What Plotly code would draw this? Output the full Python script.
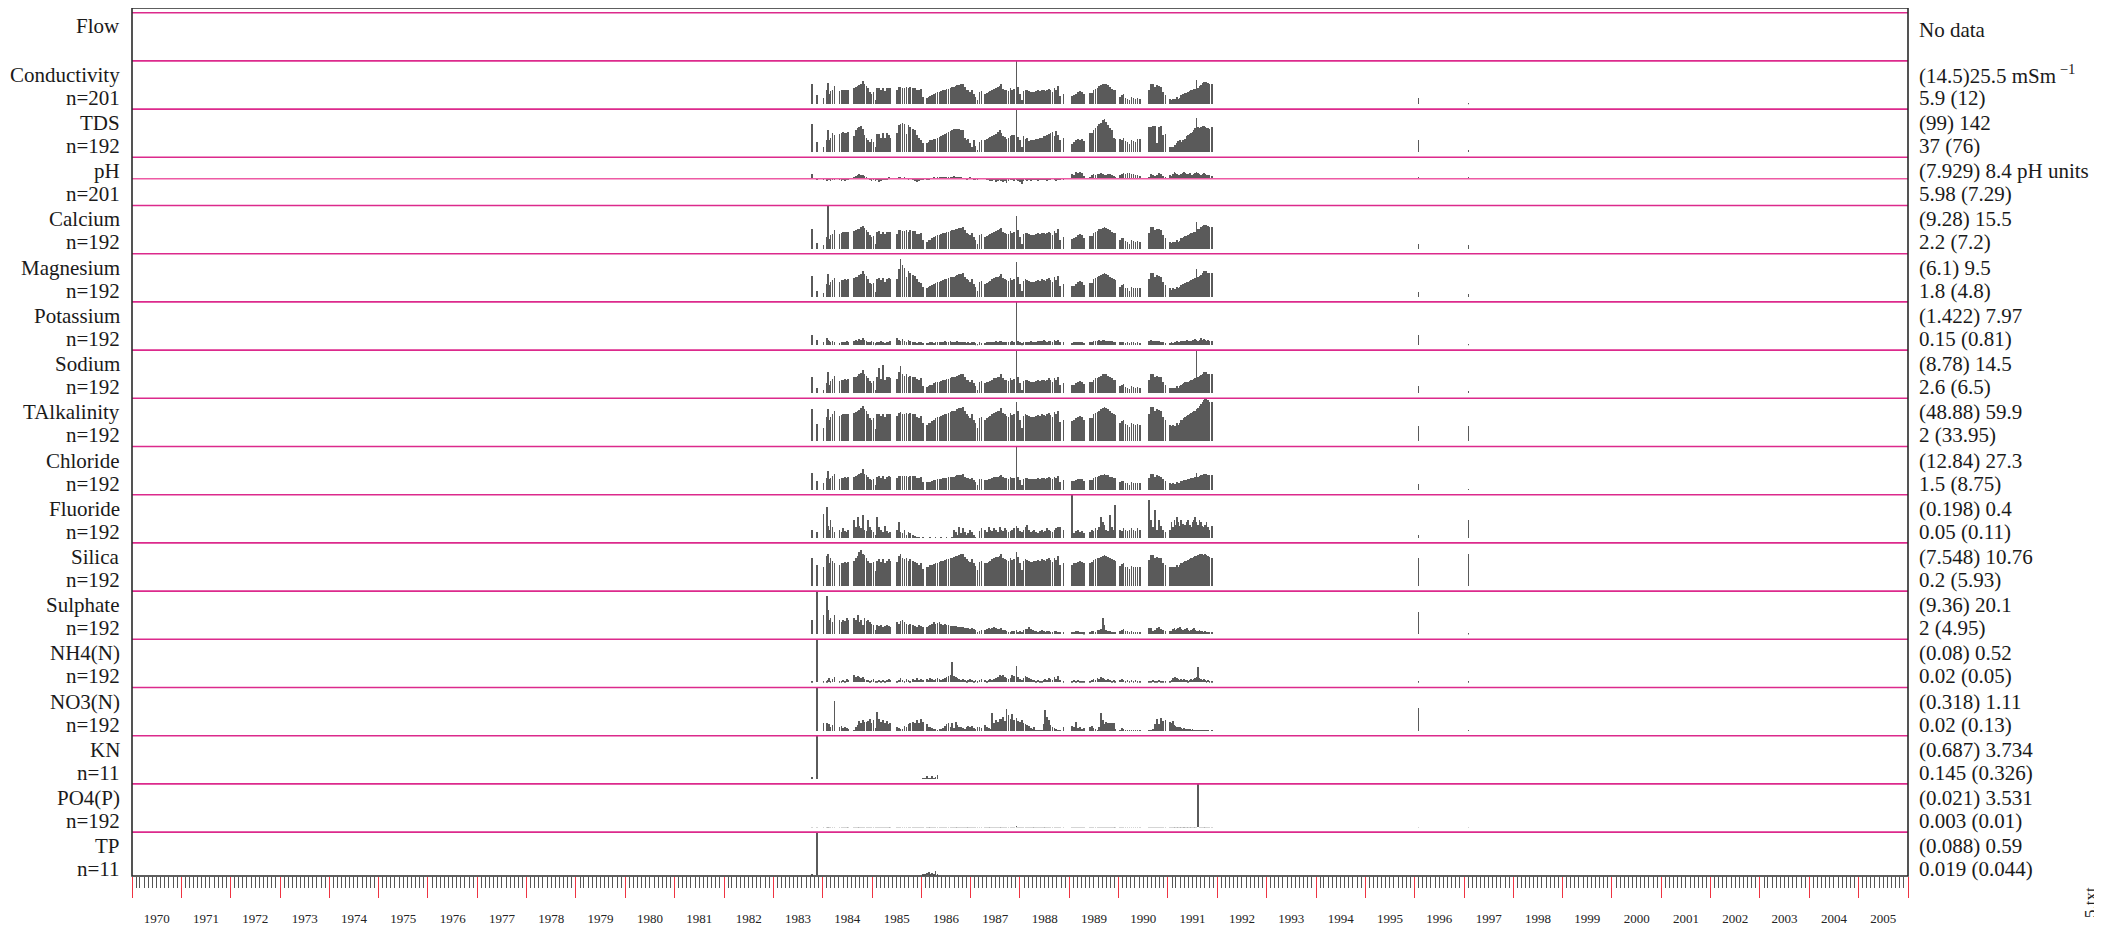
import pandas as pd
import plotly.graph_objects as go

# ---------------- sample dates (decimal years) ----------------
sample_years = [
    1983.79, 1983.88,
    1984.02, 1984.09, 1984.11, 1984.13, 1984.16, 1984.20, 1984.24,
    1984.34, 1984.38, 1984.42, 1984.45, 1984.49, 1984.52,
    1984.64, 1984.67, 1984.71, 1984.74, 1984.78, 1984.82, 1984.85, 1984.89, 1984.92, 1984.96, 1984.99, 1985.03,
    1985.07, 1985.10, 1985.14, 1985.18, 1985.22, 1985.26, 1985.30, 1985.34, 1985.37,
    1985.50, 1985.54, 1985.58, 1985.62, 1985.66, 1985.70, 1985.74, 1985.77,
    1985.83, 1985.87, 1985.91, 1985.95, 1985.99, 1986.03,
    1986.11, 1986.15, 1986.18, 1986.22, 1986.26, 1986.29, 1986.33, 1986.37, 1986.40, 1986.44,
    1986.48, 1986.51, 1986.55, 1986.59, 1986.62, 1986.66, 1986.70, 1986.73, 1986.77, 1986.81,
    1986.84, 1986.88, 1986.92, 1986.95, 1986.99, 1987.03, 1987.07, 1987.10, 1987.14, 1987.18,
    1987.22,
    1987.29, 1987.33, 1987.37, 1987.40, 1987.44, 1987.48, 1987.51, 1987.55, 1987.59, 1987.62,
    1987.66, 1987.70, 1987.73, 1987.77, 1987.81, 1987.84, 1987.88, 1987.93, 1987.96, 1988.00,
    1988.04, 1988.07, 1988.11, 1988.15, 1988.18, 1988.22, 1988.26, 1988.29, 1988.33, 1988.37,
    1988.40, 1988.44, 1988.48, 1988.51, 1988.55, 1988.59, 1988.62, 1988.66, 1988.70, 1988.73,
    1988.77, 1988.81, 1988.88,
    1989.05, 1989.09, 1989.13, 1989.17, 1989.21, 1989.25, 1989.29,
    1989.42, 1989.46, 1989.49, 1989.53, 1989.57, 1989.60, 1989.64, 1989.68, 1989.71, 1989.75, 1989.79, 1989.82, 1989.86, 1989.90, 1989.93,
    1990.03, 1990.07, 1990.10, 1990.14, 1990.18, 1990.22, 1990.26, 1990.30, 1990.34, 1990.38, 1990.43,
    1990.62, 1990.66, 1990.70, 1990.74, 1990.78, 1990.82, 1990.86, 1990.90, 1990.95,
    1991.04, 1991.07, 1991.10, 1991.13, 1991.15, 1991.18, 1991.21, 1991.24, 1991.27, 1991.30,
    1991.33, 1991.35, 1991.38, 1991.41, 1991.44, 1991.47, 1991.50, 1991.53, 1991.55, 1991.58,
    1991.61, 1991.64, 1991.67, 1991.70, 1991.73, 1991.75, 1991.78, 1991.81, 1991.84, 1991.89,
    1996.08, 1997.09,
]
kn_tp_years = [1983.79, 1983.88, 1986.04, 1986.08, 1986.11, 1986.15, 1986.18, 1986.22, 1986.26, 1986.29, 1986.33]

# ---------------- values ----------------
conductivity = [
    15.2, 10.3,
    8.9, 12.2, 15.6, 10.7, 11.9, 12.5, 14.0,
    11.9, 12.2, 12.4, 12.6, 12.5, 12.6,
    13.4, 13.7, 14.0, 14.6, 15.2, 16.5, 15.2, 14.3, 13.1, 11.5, 10.7, 11.4,
    7.7, 13.4, 13.4, 12.5, 13.4, 11.9, 13.1, 13.4, 13.1,
    12.5, 13.7, 13.7, 13.4, 13.4, 13.7, 13.4, 13.7,
    13.4, 13.5, 12.5, 12.2, 12.9, 9.2,
    8.9, 9.2, 9.5, 10.0, 10.7, 11.1, 11.5, 11.5, 11.9, 12.2,
    12.5, 12.8, 13.0, 13.4, 13.7, 13.7, 14.0, 14.5, 14.6, 14.9,
    15.2, 13.7, 12.5, 12.2, 11.5, 12.5, 10.7, 9.2, 7.7, 11.5,
    12.0,
    10.7, 11.0, 11.5, 11.9, 12.5, 13.0, 13.4, 13.7, 14.0, 14.9,
    13.0, 12.5, 12.2, 12.0, 13.2, 12.4, 12.8, 25.5, 13.7, 10.7,
    7.7, 11.9, 12.5, 12.2, 11.9, 11.5, 11.5, 11.5, 11.9, 12.2,
    11.9, 12.5, 12.2, 11.9, 12.5, 13.0, 12.2, 11.5, 13.4, 12.4,
    14.0, 9.5, 10.7,
    9.8, 10.0, 10.7, 11.5, 11.9, 11.5, 10.4,
    11.0, 11.0, 12.5, 13.0, 13.4, 14.0, 14.5, 14.9, 15.2, 14.9, 14.5, 13.7, 13.0, 12.5, 12.2,
    9.2, 10.0, 10.4, 8.9, 8.5, 7.7, 9.2, 8.9, 8.5, 8.9, 8.5,
    12.5, 15.2, 15.2, 13.7, 14.5, 14.0, 13.7, 11.5, 10.0,
    8.5, 8.0, 8.5, 7.7, 8.2, 9.2, 8.5, 9.0, 10.0, 10.4,
    10.7, 11.0, 11.2, 11.5, 11.8, 12.2, 12.5, 12.8, 13.0, 17.1,
    13.4, 14.0, 14.5, 15.5, 16.0, 16.2, 16.0, 15.5, 15.2, 15.2,
    8.8, 6.2,
]
tds = [
    106, 62,
    51, 68, 91, 66, 73, 83, 80,
    82, 84, 86, 84, 84, 86,
    76, 91, 95, 99, 101, 93, 78, 73, 68, 62, 70, 62,
    49, 82, 82, 73, 84, 73, 84, 78, 73,
    84, 103, 106, 109, 106, 82, 103, 99,
    93, 91, 78, 73, 66, 59,
    59, 62, 66, 68, 70, 70, 73, 74, 76, 78,
    82, 84, 86, 89, 91, 93, 93, 94, 93, 91,
    92, 73, 66, 70, 59, 49, 66, 53, 43, 62,
    66,
    66, 70, 73, 74, 76, 78, 82, 86, 91, 84,
    76, 74, 70, 72, 76, 80, 78, 142, 74, 68,
    49, 76, 70, 73, 64, 66, 66, 68, 70, 70,
    73, 73, 76, 76, 78, 81, 84, 86, 76, 89,
    80, 66, 73,
    58, 62, 66, 70, 68, 70, 64,
    84, 84, 91, 97, 101, 106, 109, 116, 118, 111, 103, 97, 91, 73, 70,
    70, 66, 73, 64, 62, 58, 68, 64, 62, 69, 70,
    99, 99, 101, 101, 60, 99, 101, 78, 81,
    49, 51, 49, 52, 56, 60, 64, 66, 62, 66,
    68, 70, 76, 78, 82, 84, 86, 90, 95, 120,
    99, 97, 99, 100, 102, 99, 97, 95, 93, 99,
    66, 43,
]
ph = [
    7.45, 7.10,
    7.12, 7.05, 7.10, 7.14, 7.08, 7.12, 7.15,
    7.10, 7.08, 7.12, 7.05, 7.10, 7.12,
    7.30, 7.35, 7.42, 7.45, 7.38, 7.40, 7.32, 7.28, 7.22, 7.10, 7.08, 7.12,
    7.05, 7.10, 7.02, 7.08, 7.12, 7.10, 7.15, 7.25, 7.18,
    7.22, 7.28, 7.25, 7.18, 7.26, 7.22, 7.15, 7.22,
    7.10, 7.05, 7.02, 7.08, 7.12, 7.10,
    7.15, 7.12, 7.18, 7.22, 7.25, 7.22, 7.28, 7.25, 7.30, 7.28,
    7.26, 7.30, 7.28, 7.25, 7.30, 7.32, 7.28, 7.30, 7.26, 7.24,
    7.22, 7.18, 7.15, 7.22, 7.25, 7.18, 7.12, 7.10, 7.15, 7.20,
    7.22,
    7.18, 7.15, 7.10, 7.08, 7.05, 7.10, 7.02, 7.08, 7.12, 7.05,
    7.00, 7.08, 6.95, 7.05, 7.10, 7.12, 7.08, 7.15, 7.05, 7.00,
    6.92, 7.08, 7.10, 7.05, 7.12, 7.08, 7.15, 7.10, 7.12, 7.05,
    7.10, 7.15, 7.12, 7.10, 7.08, 7.15, 7.12, 7.18, 7.10, 7.05,
    7.12, 7.15, 7.10,
    7.45, 7.40, 7.55, 7.50, 7.58, 7.52, 7.35,
    7.30, 7.38, 7.45, 7.42, 7.48, 7.45, 7.50, 7.45, 7.40, 7.42, 7.45, 7.48, 7.40, 7.35, 7.30,
    7.42, 7.45, 7.50, 7.48, 7.52, 7.50, 7.48, 7.45, 7.42, 7.38, 7.35,
    7.30, 7.45, 7.38, 7.35, 7.40, 7.52, 7.48, 7.35, 7.30,
    7.40, 7.35, 7.48, 7.55, 7.52, 7.48, 7.42, 7.38, 7.45, 7.50,
    7.55, 7.52, 7.48, 7.45, 7.50, 7.42, 7.38, 7.45, 7.52, 7.55,
    7.50, 7.45, 7.42, 7.48, 7.52, 7.45, 7.40, 7.38, 7.42, 7.35,
    7.28, 7.25,
]
calcium = [
    8.5, 4.2,
    3.5, 6.0, 15.5, 5.5, 6.5, 7.0, 8.0,
    7.0, 7.2, 7.4, 7.5, 7.4, 7.6,
    7.8, 8.0, 8.3, 8.6, 9.0, 9.5, 8.8, 8.2, 7.4, 6.5, 6.0, 6.4,
    3.8, 7.6, 7.8, 7.0, 7.6, 6.8, 7.4, 7.6, 7.4,
    7.0, 8.0, 8.2, 7.8, 7.8, 8.0, 7.6, 8.0,
    7.8, 7.8, 7.0, 6.8, 7.2, 5.0,
    4.6, 5.0, 5.2, 5.6, 6.0, 6.3, 6.6, 6.6, 6.9, 7.1,
    7.3, 7.5, 7.6, 7.9, 8.1, 8.1, 8.3, 8.6, 8.7, 8.9,
    9.1, 8.0, 7.2, 7.0, 6.5, 7.2, 6.0, 5.0, 4.0, 6.5,
    6.9,
    6.0, 6.3, 6.6, 6.9, 7.3, 7.6, 7.9, 8.1, 8.3, 8.9,
    7.6, 7.3, 7.0, 6.9, 7.7, 7.2, 7.5, 12.5, 8.1, 6.0,
    4.0, 6.9, 7.3, 7.1, 6.9, 6.6, 6.6, 6.6, 6.9, 7.1,
    6.9, 7.3, 7.1, 6.9, 7.3, 7.6, 7.1, 6.6, 7.9, 7.2,
    8.3, 5.2, 6.0,
    5.5, 5.6, 6.0, 6.6, 6.9, 6.6, 5.8,
    6.2, 6.2, 7.3, 7.6, 7.9, 8.3, 8.6, 8.9, 9.1, 8.9, 8.6, 8.1, 7.6, 7.3, 7.1,
    5.0, 5.6, 5.8, 4.8, 4.6, 4.0, 5.0, 4.8, 4.6, 4.8, 4.6,
    7.3, 9.1, 9.1, 8.1, 8.6, 8.3, 8.1, 6.6, 5.6,
    4.6, 4.3, 4.6, 4.0, 4.4, 5.0, 4.6, 4.9, 5.6, 5.8,
    6.0, 6.2, 6.4, 6.6, 6.8, 7.1, 7.3, 7.5, 7.6, 10.5,
    8.3, 8.6, 9.0, 9.3, 9.6, 9.8, 9.6, 9.3, 9.1, 9.1,
    4.0, 3.5,
]
magnesium = [
    5.6, 3.0,
    2.6, 4.2, 6.0, 4.0, 4.5, 4.8, 5.2,
    4.6, 4.8, 4.9, 5.0, 4.9, 5.0,
    5.2, 5.4, 5.5, 5.8, 6.0, 6.4, 5.9, 5.6, 5.0, 4.4, 4.1, 4.4,
    2.8, 5.0, 5.2, 4.8, 5.2, 4.6, 5.0, 5.2, 5.0,
    5.0, 6.8, 8.6, 7.5, 7.0, 5.4, 6.5, 6.2,
    5.8, 5.6, 5.0, 4.6, 4.4, 3.6,
    3.4, 3.6, 3.8, 4.0, 4.2, 4.4, 4.5, 4.5, 4.7, 4.8,
    5.0, 5.1, 5.2, 5.4, 5.5, 5.5, 5.6, 5.8, 5.9, 6.0,
    6.1, 5.5, 5.0, 4.8, 4.5, 5.0, 4.2, 3.6, 3.0, 4.5,
    4.7,
    4.2, 4.3, 4.5, 4.7, 5.0, 5.2, 5.4, 5.5, 5.6, 6.0,
    5.2, 5.0, 4.8, 4.7, 5.3, 4.9, 5.1, 8.0, 5.5, 4.2,
    3.0, 4.7, 5.0, 4.8, 4.7, 4.5, 4.5, 4.5, 4.7, 4.8,
    4.7, 5.0, 4.8, 4.7, 5.0, 5.2, 4.8, 4.5, 5.4, 4.9,
    5.6, 3.8, 4.2,
    3.8, 3.9, 4.2, 4.5, 4.7, 4.5, 4.0,
    4.4, 4.4, 5.0, 5.2, 5.4, 5.6, 5.8, 6.0, 6.1, 6.0, 5.8, 5.5, 5.2, 5.0, 4.8,
    3.6, 4.0, 4.1, 3.5, 3.4, 3.0, 3.6, 3.5, 3.4, 3.5, 3.4,
    5.0, 6.1, 6.1, 5.5, 5.8, 5.6, 5.5, 4.5, 4.0,
    3.4, 3.2, 3.4, 3.0, 3.3, 3.6, 3.4, 3.6, 4.0, 4.1,
    4.2, 4.4, 4.5, 4.6, 4.7, 4.8, 5.0, 5.1, 5.2, 6.8,
    5.4, 5.6, 5.8, 6.2, 6.4, 6.5, 6.4, 6.2, 6.1, 6.1,
    2.8, 2.4,
]
potassium = [
    2.0, 1.2,
    0.8, 1.5, 1.2, 0.9, 0.7, 1.0, 0.8,
    0.6, 0.7, 0.8, 0.7, 0.9, 0.8,
    1.0, 1.2, 0.9, 1.3, 1.1, 1.4, 1.2, 0.9, 0.8, 0.7, 0.9, 0.8,
    0.5, 0.8, 0.7, 0.9, 0.8, 0.6, 0.8, 0.7, 0.9,
    1.4, 1.1, 0.9, 1.3, 1.0, 0.8, 1.2, 0.9,
    0.8, 0.7, 0.6, 0.7, 0.8, 0.6,
    0.6, 0.6, 0.7, 0.7, 0.6, 0.7, 0.8, 0.7, 0.8, 0.7,
    0.9, 0.8, 0.8, 0.9, 0.8, 0.7, 0.8, 0.9, 0.8, 0.7,
    0.8, 0.7, 0.6, 0.7, 0.6, 0.8, 0.7, 0.5, 0.4, 0.7,
    0.6,
    0.6, 0.7, 0.7, 0.8, 0.7, 0.8, 0.9, 0.8, 1.0, 0.9,
    0.8, 0.7, 0.8, 0.7, 0.8, 0.9, 0.8, 7.97, 0.9, 0.7,
    0.5, 0.8, 0.7, 0.8, 0.7, 0.9, 0.8, 0.7, 0.8, 0.9,
    1.0, 0.9, 1.1, 0.9, 0.8, 1.0, 0.9, 0.8, 1.1, 0.9,
    1.2, 0.7, 0.8,
    0.6, 0.7, 0.8, 0.7, 0.8, 0.7, 0.6,
    0.7, 0.8, 0.9, 1.0, 0.9, 1.1, 1.0, 1.2, 1.1, 1.0, 0.9, 1.0, 0.9, 0.8, 0.8,
    0.7, 0.8, 0.7, 0.6, 0.7, 0.6, 0.8, 0.7, 0.6, 0.7, 0.6,
    0.9, 1.1, 1.0, 0.9, 1.0, 0.9, 0.8, 0.7, 0.6,
    0.6, 0.7, 0.6, 0.8, 0.7, 0.9, 0.8, 0.7, 0.9, 1.0,
    0.8, 0.9, 1.1, 1.0, 0.9, 1.0, 1.2, 1.1, 1.3, 1.2,
    1.0, 1.1, 1.4, 1.2, 1.3, 1.1, 1.0, 1.2, 1.0, 0.9,
    2.0, 0.4,
]
sodium = [
    7.0, 4.0,
    3.5, 5.5, 8.5, 5.0, 6.0, 6.5, 7.5,
    6.0, 6.2, 6.3, 6.5, 6.4, 6.5,
    7.0, 7.2, 7.5, 7.8, 8.2, 9.0, 8.0, 7.5, 6.8, 6.0, 5.5, 6.0,
    3.5, 7.0, 9.5, 6.5, 10.5, 6.2, 7.0, 7.2, 6.8,
    6.5, 8.5, 10.0, 8.0, 7.5, 7.8, 7.2, 7.5,
    7.2, 7.0, 6.5, 6.2, 6.8, 4.5,
    4.4, 4.6, 4.8, 5.0, 5.4, 5.6, 5.8, 5.8, 6.0, 6.2,
    6.4, 6.5, 6.6, 6.8, 7.0, 7.0, 7.2, 7.5, 7.6, 7.8,
    8.0, 7.0, 6.4, 6.2, 5.8, 6.4, 5.4, 4.6, 3.6, 5.8,
    6.1,
    5.4, 5.6, 5.8, 6.1, 6.4, 6.7, 6.9, 7.0, 7.2, 7.8,
    6.7, 6.4, 6.2, 6.1, 6.8, 6.3, 6.6, 14.5, 7.0, 5.4,
    3.6, 6.1, 6.4, 6.2, 6.1, 5.8, 5.8, 5.8, 6.1, 6.2,
    6.1, 6.4, 6.2, 6.1, 6.4, 6.7, 6.2, 5.8, 6.9, 6.3,
    7.2, 4.8, 5.4,
    4.9, 5.0, 5.4, 5.8, 6.1, 5.8, 5.2,
    5.6, 5.6, 6.4, 6.7, 6.9, 7.2, 7.5, 7.8, 8.0, 7.8, 7.5, 7.0, 6.7, 6.4, 6.2,
    4.6, 5.0, 5.2, 4.4, 4.2, 3.8, 4.6, 4.4, 4.2, 4.4, 4.2,
    6.4, 8.0, 8.0, 7.0, 7.5, 7.2, 7.0, 5.8, 5.0,
    4.2, 4.0, 4.2, 3.8, 4.1, 4.6, 4.2, 4.5, 5.0, 5.2,
    5.4, 5.6, 5.7, 5.8, 6.0, 6.2, 6.4, 6.5, 6.7, 14.5,
    7.0, 7.4, 7.6, 8.0, 8.4, 8.6, 8.4, 8.0, 7.8, 7.8,
    4.6, 3.2,
]
talkalinity = [
    45, 25,
    20, 35, 45, 30, 35, 38, 42,
    36, 37, 38, 39, 38, 39,
    40, 41, 42, 44, 46, 49, 45, 42, 38, 33, 30, 33,
    18, 38, 39, 36, 39, 34, 38, 39, 38,
    36, 40, 41, 39, 39, 40, 38, 40,
    38, 38, 35, 33, 36, 26,
    24, 26, 27, 29, 31, 33, 34, 34, 36, 37,
    38, 39, 40, 41, 42, 42, 43, 45, 46, 47,
    48, 42, 38, 36, 33, 38, 31, 26, 20, 33,
    35,
    31, 33, 34, 36, 38, 40, 41, 42, 43, 46,
    40, 38, 36, 35, 40, 37, 39, 55, 42, 31,
    20, 36, 38, 37, 36, 34, 34, 34, 36, 37,
    36, 38, 37, 36, 38, 40, 37, 34, 41, 38,
    43, 28, 31,
    29, 30, 33, 35, 36, 35, 31,
    33, 33, 38, 40, 41, 43, 45, 47, 48, 47, 45, 42, 40, 38, 37,
    26, 29, 30, 25, 24, 21, 26, 25, 24, 25, 24,
    38, 48, 48, 43, 45, 44, 43, 35, 30,
    24, 23, 24, 22, 23, 26, 24, 26, 30, 31,
    33, 35, 36, 37, 38, 40, 41, 42, 43, 45,
    47, 49, 52, 55, 57, 58, 59.9, 57, 55, 54,
    22, 23,
]
chloride = [
    12, 7,
    6, 9, 13, 8, 9, 10, 11,
    8.5, 8.8, 9.0, 9.2, 9.0, 9.2,
    9.5, 10, 10.5, 11, 12, 14, 11.5, 10.5, 9.5, 8.0, 7.5, 8.0,
    5, 9.5, 9.8, 9.0, 9.8, 8.5, 9.5, 9.8, 9.5,
    9.0, 10.0, 10.2, 9.8, 9.8, 10.0, 9.6, 10.0,
    9.8, 9.8, 9.0, 8.6, 9.2, 6.5,
    6.2, 6.5, 6.7, 7.0, 7.4, 7.7, 8.0, 8.0, 8.4, 8.6,
    8.8, 9.0, 9.2, 9.4, 9.7, 9.7, 10, 10.4, 10.5, 10.8,
    11, 9.7, 8.8, 8.6, 8.0, 8.8, 7.4, 6.4, 5.0, 8.0,
    8.5,
    7.4, 7.7, 8.0, 8.4, 8.8, 9.2, 9.4, 9.7, 10, 10.8,
    9.2, 8.8, 8.6, 8.4, 9.3, 8.7, 9.0, 27.3, 9.7, 7.4,
    5.0, 8.4, 8.8, 8.6, 8.4, 8.0, 8.0, 8.0, 8.4, 8.6,
    8.4, 8.8, 8.6, 8.4, 8.8, 9.2, 8.6, 8.0, 9.4, 8.7,
    10, 6.5, 7.4,
    6.8, 7.0, 7.4, 8.0, 8.4, 8.0, 7.2,
    7.6, 7.6, 8.8, 9.2, 9.4, 10, 10.4, 10.8, 11, 10.8, 10.4, 9.7, 9.2, 8.8, 8.6,
    6.2, 6.8, 7.2, 6.0, 5.8, 5.0, 6.2, 6.0, 5.8, 6.0, 5.8,
    8.8, 11, 11, 9.7, 10.4, 10, 9.7, 8.0, 6.8,
    5.8, 5.4, 5.8, 5.0, 5.6, 6.2, 5.8, 6.1, 6.8, 7.2,
    7.4, 7.6, 7.8, 8.0, 8.2, 8.6, 8.8, 9.0, 9.2, 12.0,
    9.4, 9.8, 10.4, 10.8, 11.2, 11.4, 11.2, 10.8, 10.4, 10.4,
    5.5, 2.5,
]
fluoride = [
    0.12, 0.10,
    0.25, 0.30, 0.15, 0.12, 0.20, 0.14, 0.10,
    0.12, 0.10, 0.13, 0.11, 0.10, 0.12,
    0.20, 0.14, 0.22, 0.15, 0.13, 0.24, 0.12, 0.11, 0.20, 0.14, 0.12, 0.10,
    0.08, 0.22, 0.14, 0.12, 0.10, 0.15, 0.11, 0.09, 0.10,
    0.12, 0.18, 0.10, 0.09, 0.12, 0.08, 0.10, 0.09,
    0.08, 0.07, 0.06, 0.06, 0.05, 0.06,
    0.05, 0.05, 0.06, 0.05, 0.05, 0.06, 0.05, 0.05, 0.06, 0.05,
    0.05, 0.06, 0.05, 0.05, 0.06, 0.12, 0.10, 0.08, 0.14, 0.09,
    0.13, 0.10, 0.08, 0.09, 0.12, 0.10, 0.08, 0.06, 0.05, 0.11,
    0.13,
    0.12, 0.10, 0.14, 0.12, 0.11, 0.13, 0.12, 0.10, 0.14, 0.12,
    0.11, 0.13, 0.12, 0.10, 0.11, 0.12, 0.13, 0.15, 0.13, 0.11,
    0.10, 0.12, 0.14, 0.16, 0.12, 0.10, 0.11, 0.12, 0.10, 0.09,
    0.11, 0.12, 0.10, 0.11, 0.13, 0.12, 0.11, 0.10, 0.12, 0.13,
    0.14, 0.14, 0.12,
    0.40, 0.09, 0.11, 0.12, 0.10, 0.11, 0.09,
    0.10, 0.12, 0.11, 0.13, 0.12, 0.14, 0.22, 0.18, 0.16, 0.12, 0.11, 0.24, 0.14, 0.12, 0.32,
    0.12, 0.11, 0.13, 0.12, 0.11, 0.12, 0.13, 0.12, 0.11, 0.13, 0.12,
    0.36, 0.20, 0.14, 0.28, 0.12, 0.20, 0.15, 0.12, 0.10,
    0.12, 0.18, 0.14, 0.20, 0.16, 0.22, 0.18, 0.15, 0.20, 0.17,
    0.14, 0.16, 0.18, 0.20, 0.16, 0.14, 0.18, 0.20, 0.22, 0.18,
    0.16, 0.20, 0.18, 0.15, 0.14, 0.16, 0.18, 0.14, 0.12, 0.15,
    0.08, 0.20,
]
silica = [
    7.0, 5.5,
    5.0, 7.5, 8.0, 6.0, 7.0, 6.5, 6.0,
    5.5, 5.8, 6.0, 6.2, 6.0, 6.2,
    6.5, 7.2, 7.5, 8.5, 9.0, 8.0, 7.8, 7.0, 6.5, 6.0, 5.8, 6.2,
    4.0, 6.5, 6.8, 6.2, 6.8, 6.0, 6.5, 6.8, 6.5,
    6.2, 7.5, 8.0, 7.2, 6.8, 7.0, 6.5, 6.8,
    6.5, 6.2, 5.8, 5.5, 5.8, 4.5,
    4.8, 5.0, 5.3, 5.5, 5.6, 5.9, 6.0, 6.2, 6.3, 6.5,
    6.6, 6.8, 6.9, 7.1, 7.2, 7.3, 7.5, 7.7, 7.8, 8.0,
    8.2, 7.4, 6.8, 6.5, 6.2, 6.8, 5.9, 5.2, 4.2, 6.2,
    6.5,
    5.8, 6.0, 6.2, 6.5, 6.8, 7.0, 7.3, 7.4, 7.6, 8.1,
    7.0, 6.8, 6.6, 6.5, 7.1, 6.7, 6.9, 8.6, 7.4, 5.9,
    4.2, 6.5, 6.8, 6.6, 6.5, 6.2, 6.2, 6.3, 6.5, 6.6,
    6.5, 6.8, 6.6, 6.5, 6.8, 7.1, 6.6, 6.2, 7.2, 6.7,
    7.5, 5.3, 5.9,
    5.5, 5.8, 6.0, 6.2, 6.5, 6.2, 5.8,
    6.0, 6.2, 6.6, 6.8, 7.0, 7.2, 7.4, 7.6, 7.8, 7.6, 7.4, 7.0, 6.8, 6.6, 6.4,
    5.2, 5.6, 5.8, 5.0, 4.8, 4.5, 5.2, 5.0, 4.8, 5.0, 4.8,
    6.6, 7.8, 7.8, 7.0, 7.4, 7.2, 7.0, 6.0, 5.4,
    5.0, 4.8, 5.0, 4.6, 4.9, 5.4, 5.0, 5.3, 5.8, 6.0,
    6.2, 6.4, 6.5, 6.6, 6.8, 7.0, 7.2, 7.3, 7.5, 7.6,
    7.8, 8.0, 8.2, 8.0, 7.8, 8.0, 7.8, 7.6, 7.4, 7.2,
    7.0, 8.2,
]
sulphate = [
    8, 20.1,
    10, 18, 12, 8, 9, 7, 10,
    8, 7, 8, 7.5, 9, 8,
    9, 8, 10, 7, 8, 6, 9, 7.5, 8, 7, 6.5, 6,
    4, 6, 5.5, 6, 5, 5.5, 6, 5.5, 5,
    7, 6.5, 7.5, 8, 7, 6.5, 6, 6.5,
    6, 5.5, 5, 6, 5.5, 5,
    5, 5.5, 6, 6.5, 7, 6.5, 6.8, 7, 6.5, 6,
    6.2, 6, 5.8, 5.5, 5.6, 5.5, 5.4, 5.2, 5, 5.2,
    5, 4.8, 4.5, 4.6, 4.2, 4.8, 4.4, 3.8, 3.2, 3.5,
    4,
    4, 4.2, 4.5, 4.4, 4.8, 5, 4.6, 4.2, 4.4, 4.8,
    4, 3.8, 3.5, 3.2, 3, 3.6, 3.4, 4, 3.2, 3.5,
    3, 3.8, 4.2, 4.4, 5, 4.2, 3.8, 3.6, 3.4, 3.2,
    3.5, 3.8, 3.4, 3.2, 3.6, 3.4, 3.2, 3, 3.4, 3.6,
    3.2, 3, 3.2,
    3.2, 3, 3.4, 3.6, 3.2, 3, 2.8,
    3, 3.4, 3.6, 3.2, 3.8, 4, 4.4, 9, 6, 4, 3.6, 3.4, 3.2, 3, 3.2,
    3.6, 3.8, 4.2, 3.5, 3.4, 3.2, 3.4, 3.2, 3, 3.2, 3,
    4.5, 4.8, 3.6, 4, 4.5, 5, 4.2, 3.8, 3.4,
    3.4, 3.6, 4.2, 4.5, 3.8, 4.2, 4.6, 5, 4.4, 4,
    3.8, 4.2, 4.5, 4, 3.6, 3.8, 4.2, 4.5, 3.8, 3.6,
    3.4, 3.8, 3.6, 3.4, 3.2, 3.4, 3.2, 3.0, 3.2, 3.0,
    11.5, 2.5,
]
nh4_n = [
    0.03, 0.52,
    0.03, 0.04, 0.05, 0.07, 0.04, 0.06, 0.08,
    0.03, 0.04, 0.05, 0.04, 0.06, 0.05,
    0.11, 0.08, 0.09, 0.08, 0.07, 0.08, 0.06, 0.05, 0.05, 0.04, 0.05, 0.06,
    0.03, 0.04, 0.05, 0.04, 0.05, 0.04, 0.05, 0.06, 0.05,
    0.04, 0.05, 0.07, 0.05, 0.04, 0.06, 0.05, 0.04,
    0.06, 0.05, 0.07, 0.05, 0.06, 0.05,
    0.06, 0.05, 0.07, 0.06, 0.05, 0.06, 0.07, 0.06, 0.05, 0.06,
    0.07, 0.08, 0.09, 0.10, 0.26, 0.09, 0.08, 0.07, 0.06, 0.05,
    0.06, 0.05, 0.04, 0.05, 0.06, 0.05, 0.04, 0.05, 0.04, 0.05,
    0.06,
    0.05, 0.04, 0.05, 0.06, 0.05, 0.06, 0.07, 0.08, 0.10, 0.09,
    0.11, 0.08, 0.07, 0.06, 0.07, 0.10, 0.09, 0.21, 0.08, 0.06,
    0.05, 0.07, 0.09, 0.08, 0.07, 0.06, 0.05, 0.05, 0.04, 0.05,
    0.04, 0.04, 0.05, 0.06, 0.05, 0.07, 0.06, 0.05, 0.08, 0.06,
    0.09, 0.05, 0.04,
    0.04, 0.05, 0.04, 0.05, 0.04, 0.03, 0.04,
    0.03, 0.05, 0.06, 0.05, 0.07, 0.06, 0.08, 0.07, 0.06, 0.05, 0.06, 0.05, 0.04, 0.05, 0.04,
    0.05, 0.06, 0.05, 0.04, 0.05, 0.04, 0.05, 0.04, 0.05, 0.04, 0.03,
    0.04, 0.03, 0.05, 0.04, 0.03, 0.05, 0.04, 0.03, 0.04,
    0.04, 0.05, 0.07, 0.06, 0.08, 0.07, 0.06, 0.05, 0.06, 0.05,
    0.06, 0.05, 0.05, 0.04, 0.05, 0.06, 0.05, 0.06, 0.07, 0.08,
    0.20, 0.07, 0.06, 0.05, 0.06, 0.05, 0.04, 0.05, 0.04, 0.04,
    0.03, 0.03,
]
no3_n = [
    0.03, 1.11,
    0.23, 0.24, 0.15, 0.20, 0.12, 0.18, 0.78,
    0.12, 0.15, 0.10, 0.13, 0.11, 0.09,
    0.06, 0.12, 0.18, 0.28, 0.22, 0.30, 0.26, 0.25, 0.28, 0.32, 0.24, 0.30,
    0.10, 0.50, 0.32, 0.26, 0.30, 0.22, 0.28, 0.20, 0.24,
    0.14, 0.10, 0.09, 0.08, 0.15, 0.12, 0.20, 0.22,
    0.26, 0.24, 0.30, 0.22, 0.34, 0.25,
    0.20, 0.14, 0.12, 0.10, 0.08, 0.07, 0.06, 0.07, 0.08, 0.10,
    0.15, 0.20, 0.24, 0.12, 0.22, 0.10, 0.25, 0.18, 0.14, 0.12,
    0.10, 0.09, 0.12, 0.15, 0.13, 0.16, 0.10, 0.08, 0.12, 0.14,
    0.10,
    0.18, 0.12, 0.10, 0.08, 0.48, 0.22, 0.30, 0.26, 0.34, 0.32,
    0.38, 0.28, 0.58, 0.42, 0.34, 0.45, 0.30, 0.36, 0.28, 0.25,
    0.30, 0.22, 0.20, 0.18, 0.15, 0.10, 0.08, 0.12, 0.06, 0.05,
    0.06, 0.05, 0.20, 0.55, 0.38, 0.30, 0.18, 0.12, 0.10, 0.08,
    0.06, 0.05, 0.12,
    0.16, 0.14, 0.25, 0.10, 0.12, 0.08, 0.10,
    0.12, 0.15, 0.10, 0.08, 0.06, 0.12, 0.48, 0.30, 0.20, 0.26, 0.22, 0.24, 0.23, 0.22, 0.08,
    0.06, 0.10, 0.08, 0.05, 0.06, 0.05, 0.05, 0.06, 0.05, 0.04, 0.05,
    0.06, 0.05, 0.07, 0.20, 0.32, 0.20, 0.36, 0.28, 0.30,
    0.25, 0.22, 0.28, 0.18, 0.15, 0.12, 0.14, 0.12, 0.10, 0.08,
    0.10, 0.09, 0.08, 0.07, 0.08, 0.06, 0.07, 0.05, 0.06, 0.05,
    0.06, 0.05, 0.04, 0.05, 0.04, 0.05, 0.04, 0.04, 0.03, 0.04,
    0.60, 0.06,
]
po4_p = [
    0.02, 0.03,
    0.01, 0.02, 0.01, 0.01, 0.02, 0.01, 0.01,
    0.01, 0.01, 0.02, 0.01, 0.01, 0.01,
    0.02, 0.01, 0.01, 0.02, 0.01, 0.01, 0.02, 0.01, 0.01, 0.01, 0.02, 0.01,
    0.01, 0.02, 0.01, 0.01, 0.01, 0.02, 0.01, 0.01, 0.01,
    0.01, 0.01, 0.02, 0.01, 0.01, 0.01, 0.02, 0.01,
    0.01, 0.01, 0.01, 0.02, 0.01, 0.01,
    0.01, 0.01, 0.02, 0.01, 0.01, 0.01, 0.02, 0.01, 0.01, 0.01,
    0.02, 0.01, 0.01, 0.01, 0.03, 0.01, 0.01, 0.02, 0.01, 0.01,
    0.01, 0.02, 0.01, 0.01, 0.01, 0.02, 0.01, 0.01, 0.01, 0.02,
    0.01,
    0.01, 0.01, 0.02, 0.01, 0.01, 0.01, 0.02, 0.01, 0.01, 0.03,
    0.02, 0.01, 0.01, 0.01, 0.02, 0.01, 0.02, 0.04, 0.01, 0.01,
    0.02, 0.01, 0.01, 0.01, 0.02, 0.01, 0.01, 0.01, 0.02, 0.01,
    0.01, 0.01, 0.02, 0.01, 0.01, 0.01, 0.02, 0.01, 0.01, 0.01,
    0.02, 0.01, 0.01,
    0.01, 0.01, 0.02, 0.01, 0.01, 0.01, 0.01,
    0.01, 0.02, 0.01, 0.01, 0.01, 0.02, 0.01, 0.01, 0.02, 0.01, 0.01, 0.01, 0.02, 0.01, 0.01,
    0.01, 0.01, 0.02, 0.01, 0.01, 0.01, 0.02, 0.01, 0.01, 0.01, 0.01,
    0.01, 0.02, 0.01, 0.01, 0.01, 0.02, 0.01, 0.01, 0.01,
    0.01, 0.02, 0.01, 0.02, 0.01, 0.03, 0.02, 0.01, 0.02, 0.01,
    0.02, 0.01, 0.02, 0.03, 0.02, 0.01, 0.02, 0.01, 0.02, 0.03,
    3.531, 0.02, 0.01, 0.02, 0.01, 0.02, 0.01, 0.01, 0.02, 0.01,
    0.01, 0.01,
]
kn = [0.35, 3.734, 0.20, 0.25, 0.40, 0.22, 0.30, 0.45, 0.28, 0.33, 0.50]
tp = [0.03, 0.59, 0.03, 0.04, 0.05, 0.06, 0.04, 0.05, 0.04, 0.08, 0.04]

# ---------------- panel texts and scales ----------------
panel_names = ["Flow", "Conductivity", "TDS", "pH", "Calcium", "Magnesium", "Potassium", "Sodium",
               "TAlkalinity", "Chloride", "Fluoride", "Silica", "Sulphate", "NH4(N)", "NO3(N)", "KN",
               "PO4(P)", "TP"]
panel_counts = ["", "n=201", "n=192", "n=201", "n=192", "n=192", "n=192", "n=192", "n=192", "n=192",
                "n=192", "n=192", "n=192", "n=192", "n=192", "n=11", "n=192", "n=11"]
right_upper = ["No data", "(14.5)25.5 mSm<sup> −1</sup>", "(99) 142", "(7.929) 8.4 pH units", "(9.28) 15.5",
               "(6.1) 9.5", "(1.422) 7.97", "(8.78) 14.5", "(48.88) 59.9", "(12.84) 27.3", "(0.198) 0.4",
               "(7.548) 10.76", "(9.36) 20.1", "(0.08) 0.52", "(0.318) 1.11", "(0.687) 3.734",
               "(0.021) 3.531", "(0.088) 0.59"]
right_lower = ["", "5.9 (12)", "37 (76)", "5.98 (7.29)", "2.2 (7.2)", "1.8 (4.8)", "0.15 (0.81)", "2.6 (6.5)",
               "2 (33.95)", "1.5 (8.75)", "0.05 (0.11)", "0.2 (5.93)", "2 (4.95)", "0.02 (0.05)",
               "0.02 (0.13)", "0.145 (0.326)", "0.003 (0.01)", "0.019 (0.044)"]
panel_min = [None, 5.9, 37, 5.98, 2.2, 1.8, 0.15, 2.6, 2, 1.5, 0.05, 0.2, 2, 0.02, 0.02, 0.145, 0.003, 0.019]
panel_max = [None, 25.5, 142, 8.4, 15.5, 9.5, 7.97, 14.5, 59.9, 27.3, 0.4, 10.76, 20.1, 0.52, 1.11, 3.734, 3.531, 0.59]
ph_reference = 7.2

series = {
    1: (sample_years, conductivity), 2: (sample_years, tds), 3: (sample_years, ph),
    4: (sample_years, calcium), 5: (sample_years, magnesium), 6: (sample_years, potassium),
    7: (sample_years, sodium), 8: (sample_years, talkalinity), 9: (sample_years, chloride),
    10: (sample_years, fluoride), 11: (sample_years, silica), 12: (sample_years, sulphate),
    13: (sample_years, nh4_n), 14: (sample_years, no3_n), 15: (kn_tp_years, kn),
    16: (sample_years, po4_p), 17: (kn_tp_years, tp),
}
bad = [(panel_names[k], len(x), len(y)) for k, (x, y) in series.items() if len(x) != len(y)]
if bad:
    raise ValueError(f"length mismatch: {bad}")


def to_timestamp(y):
    yr = int(y)
    start = pd.Timestamp(yr, 1, 1)
    return start + (pd.Timestamp(yr + 1, 1, 1) - start) * (y - yr)


# ---------------- layout geometry (page pixels; the page body adds an 8px offset) ----------------
OFF = 8
W, H = 2102 - OFF, 925 - OFF
PLOT_L, PLOT_R, PLOT_T, PLOT_B = 132, 1908, 8, 876      # page coordinates of the frame
ML, MR, MT, MB = PLOT_L - OFF, (W + OFF) - PLOT_R, PLOT_T - OFF, (H + OFF) - PLOT_B
PLOT_H = PLOT_B - PLOT_T
FONT = "Liberation Serif"
PINK = "#dc2a8c"
BAR = "#5a5a5a"


def pyf(pix):
    return (PLOT_B - pix) / PLOT_H


PANEL_TOP0, PANEL_STEP, PANEL_SPAN = 12.7, 48.2, 43.4
bar_width_ms = 5.5 * 24 * 3600 * 1000

fig = go.Figure()
layout = dict(
    width=W, height=H, margin=dict(l=ML, r=MR, t=MT, b=MB, autoexpand=False),
    paper_bgcolor="white", plot_bgcolor="white", showlegend=False, bargap=0,
    xaxis=dict(
        type="date", range=["1970-01-01", "2006-01-01"], anchor="free", position=0,
        tickmode="linear", tick0="1970-01-01", dtick="M12", ticks="outside", ticklen=21,
        tickwidth=1.2, tickcolor="#ee3342", ticklabelmode="period", tickformat="%Y",
        tickfont=dict(family=FONT, size=13, color="#222"), ticklabelstandoff=9,
        minor=dict(dtick="M1", tick0="1970-01-01", ticks="outside", ticklen=11, tickwidth=1,
                   tickcolor="#555", showgrid=False),
        showgrid=False, zeroline=False, showline=False, fixedrange=True,
    ),
)

shapes, annotations = [], []
TXT = dict(family=FONT, size=21, color="#1a1a1a")
for k in range(18):
    top = PANEL_TOP0 + PANEL_STEP * k
    bottom = top + PANEL_SPAN
    key = "yaxis" if k == 0 else f"yaxis{k + 1}"
    ax = dict(domain=[max(0, pyf(bottom)), pyf(top)], visible=False, fixedrange=True)
    ax["range"] = [panel_min[k], panel_max[k]] if panel_min[k] is not None else [0, 1]
    layout[key] = ax
    shapes.append(dict(type="line", xref="paper", yref="paper", x0=0, x1=1, y0=pyf(top), y1=pyf(top),
                       line=dict(color=PINK, width=1.6), layer="above"))
    if k == 0:
        annotations.append(dict(text=panel_names[k], x=0, xanchor="right", xshift=-10, xref="paper",
                                y=pyf(top + 13), yref="paper", yanchor="middle", showarrow=False, font=TXT))
        annotations.append(dict(text=right_upper[k], x=1, xanchor="left", xshift=9, xref="paper",
                                y=pyf(top + 17), yref="paper", yanchor="middle", showarrow=False, font=TXT))
        continue
    for txt, dy, side in [(panel_names[k], 14, "L"), (panel_counts[k], 37, "L"),
                          (right_upper[k], 14, "R"), (right_lower[k], 37, "R")]:
        annotations.append(dict(text=txt, x=0 if side == "L" else 1,
                                xanchor="right" if side == "L" else "left",
                                xshift=-10 if side == "L" else 9, xref="paper",
                                y=pyf(top + dy), yref="paper", yanchor="middle", showarrow=False, font=TXT))

# pH reference line
shapes.append(dict(type="line", xref="paper", yref="y4", x0=0, x1=1, y0=ph_reference, y1=ph_reference,
                   line=dict(color="#ee5aa4", width=1.4), layer="above"))
# frame
shapes.append(dict(type="rect", xref="paper", yref="paper", x0=0, x1=1, y0=0, y1=1,
                   line=dict(color="#2a2a2a", width=1.6), layer="above"))

# bars
for k, (yrs, vals) in series.items():
    base = ph_reference if panel_names[k] == "pH" else panel_min[k]
    fig.add_trace(go.Bar(
        x=[to_timestamp(y) for y in yrs], y=[v - base for v in vals], base=base,
        width=bar_width_ms, marker=dict(color=BAR, line=dict(width=0)),
        xaxis="x", yaxis=f"y{k + 1}", hoverinfo="skip", showlegend=False,
    ))

annotations.append(dict(text="5.txt", x=1, xref="paper", xshift=2090 - PLOT_R, xanchor="center",
                        y=pyf(903), yref="paper", yanchor="middle", textangle=-90, showarrow=False,
                        font=dict(family=FONT, size=17, color="#222")))

layout["shapes"] = shapes
layout["annotations"] = annotations
fig.update_layout(**layout)
fig.write_html("out.html")
